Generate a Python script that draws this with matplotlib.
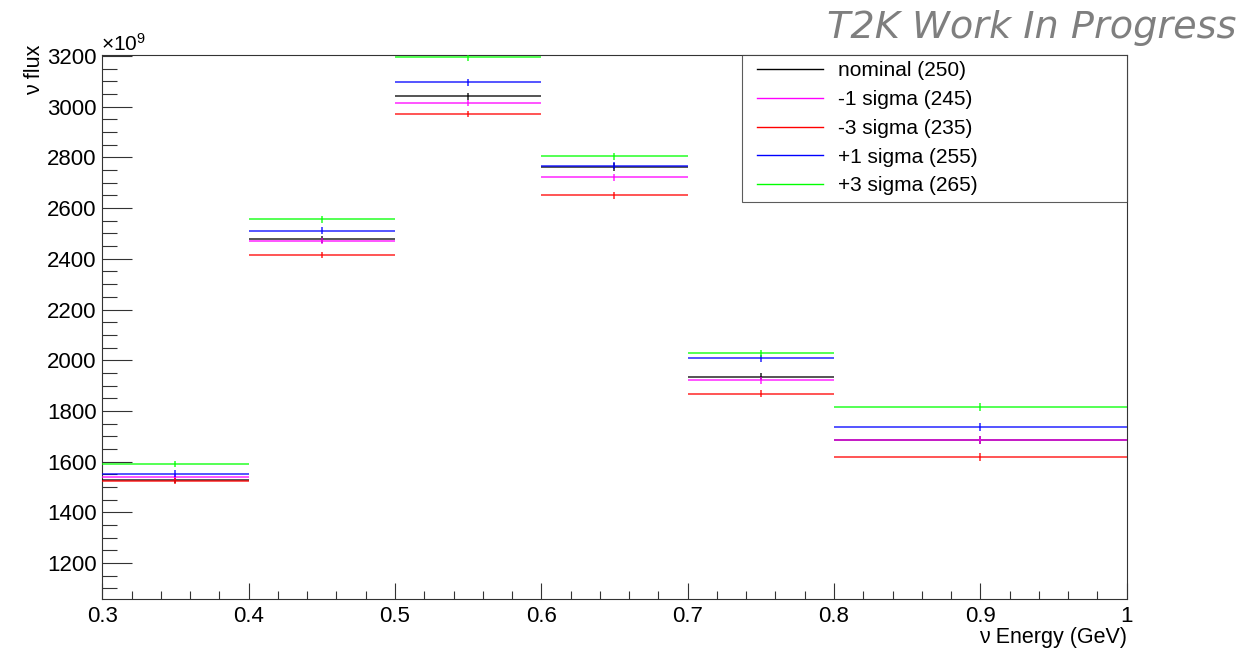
import matplotlib
matplotlib.use("Agg")
import matplotlib.pyplot as plt
from matplotlib.lines import Line2D
from matplotlib.legend_handler import HandlerLine2D
import numpy as np

plt.rcParams['font.family'] = ['Liberation Sans', 'DejaVu Sans']
plt.rcParams['mathtext.fontset'] = 'custom'
plt.rcParams['mathtext.rm'] = 'Liberation Sans'
plt.rcParams['mathtext.it'] = 'Liberation Sans:italic'

# ---- data ----
bin_edges = [0.3, 0.4, 0.5, 0.6, 0.7, 0.8, 1.0]
labels = ["nominal (250)", "-1 sigma (245)", "-3 sigma (235)", "+1 sigma (255)", "+3 sigma (265)"]
colors = ["#000000", "#ff00ff", "#ff0000", "#0000ff", "#00ff00"]
nominal = [1528, 2477, 3041, 2762, 1934, 1686]
minus1 = [1539, 2470, 3015, 2721, 1921, 1685]
minus3 = [1523, 2415, 2971, 2650, 1867, 1619]
plus1 = [1553, 2511, 3096, 2767, 2007, 1738]
plus3 = [1591, 2556, 3195, 2805, 2027, 1814]
errors = [12, 13, 13, 14, 14, 16]
series = [nominal, minus1, minus3, plus1, plus3]

W, H = 1244, 648
fig = plt.figure(figsize=(W / 100, H / 100), dpi=100)
ax_l, ax_r, ax_t, ax_b = 102.3, 1126.7, 55, 599
ax = fig.add_axes([ax_l / W, 1 - ax_b / H, (ax_r - ax_l) / W, (ax_b - ax_t) / H])

edges = np.array(bin_edges)
lefts, rights = edges[:-1], edges[1:]
centers = (lefts + rights) / 2
for vals, c in zip(series, colors):
    ax.hlines(vals, lefts, rights, colors=c, lw=1.1, alpha=0.85, zorder=3)
    ax.errorbar(centers, vals, yerr=errors, fmt='none', ecolor=c, elinewidth=1.1,
                capsize=0, alpha=0.85, zorder=3)

ax.set_xlim(0.3, 1.0)
ax.set_ylim(1058, 3204)
ax.set_xticks(np.arange(0.3, 1.001, 0.1))
ax.set_xticklabels(["0.3", "0.4", "0.5", "0.6", "0.7", "0.8", "0.9", "1"])
ax.set_xticks(np.arange(0.3, 1.001, 0.02), minor=True)
ax.set_yticks(np.arange(1200, 3201, 200))
ax.set_yticklabels([str(v) for v in range(1200, 3201, 200)])
ax.set_yticks(np.arange(1100, 3201, 50), minor=True)
ax.tick_params(axis='both', which='both', direction='in', labelsize=16, width=0.8, color='#333333')
ax.tick_params(axis='y', which='major', length=21.5, pad=4)
ax.tick_params(axis='y', which='minor', length=10.8)
ax.tick_params(axis='x', which='major', length=11.5, pad=5)
ax.tick_params(axis='x', which='minor', length=5.8)
for s in ax.spines.values():
    s.set_linewidth(0.8)
    s.set_color('#333333')

fig.text(35 / W, 1 - 45 / H, "ν flux", rotation=90, ha='center', va='top', fontsize=15.5)
fig.text(ax_r / W, 1 - 638 / H, "ν Energy (GeV)", ha='right', va='center', fontsize=15.5)
fig.text(101 / W, 1 - 51 / H, r"$\times10^{9}$", ha='left', va='baseline', fontsize=15)
fig.text(1236 / W, 1 - 28 / H, "T2K Work In Progress", ha='right', va='center',
         fontsize=27.5, color='#7f7f7f', style='italic', family=['DejaVu Sans'])


class OffsetLineHandler(HandlerLine2D):
    def get_xdata(self, legend, xdescent, ydescent, width, height, fontsize):
        start = -xdescent + width * 0.12
        end = -xdescent + width
        return np.array([start, end]), np.array([(start + end) / 2])


handles = [Line2D([], [], color=c, lw=1.0) for c in colors]
leg = ax.legend(handles, labels, loc='upper left',
                bbox_to_anchor=((742 - ax_l) / (ax_r - ax_l), 1.0, (ax_r - 742) / (ax_r - ax_l), 0.0),
                mode='expand', borderaxespad=0, fontsize=15, frameon=True, fancybox=False,
                handlelength=3.6, handletextpad=0.72, labelspacing=0.47, borderpad=0.3,
                handler_map={Line2D: OffsetLineHandler()})
leg.get_frame().set_edgecolor('#333333')
leg.get_frame().set_linewidth(0.8)

fig.savefig("out.png", dpi=100)
